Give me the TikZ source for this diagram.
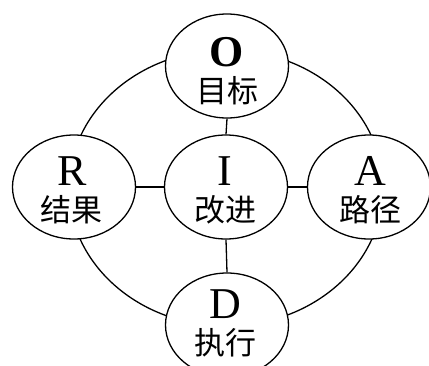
\documentclass[tikz,border=0pt]{standalone}
\usepackage{fontspec}
\setmainfont{Liberation Serif}
\newfontfamily\cjk{Noto Sans CJK SC}
\usetikzlibrary{shapes.geometric}
\begin{document}
\begin{tikzpicture}[x=1pt,y=-1pt,
  oval/.style={draw,ellipse,fill=white,line width=1.3pt,minimum width=123pt,minimum height=104pt,inner sep=0pt},
  link/.style={line width=1.3pt},
  letter/.style={font=\fontsize{44}{44}\selectfont,inner sep=0pt},
  word/.style={font=\cjk\fontsize{31}{31}\selectfont,inner sep=0pt}]
\useasboundingbox (0,0) rectangle (429,365);
\begin{scope}
\clip (0,0) rectangle (429,365);
\draw[link] (226,188) ellipse [x radius=157, y radius=138];
\node[oval] (O) at (227,66) {};
\node[oval] (I) at (226,187) {};
\node[oval] (R) at (74,187) {};
\node[oval] (A) at (369,187) {};
\node[oval] (D) at (227,325) {};
\draw[link] (O.south) -- (I.north);
\draw[link] (I.south) -- (D.north);
\draw[link] (R.east) -- (I.west);
\draw[link] (I.east) -- (A.west);
\node[letter,font=\fontsize{44}{44}\selectfont\bfseries] (tO) at (227,52) {O};
\node[word] (wO) at (227,91) {目标};
\node[letter] (tR) at (72,171) {R};
\node[word] (wR) at (72,210) {结果};
\node[letter] (tI) at (225,171) {I};
\node[word] (wI) at (225,210) {改进};
\node[letter] (tA) at (370,171) {A};
\node[word] (wA) at (370,210) {路径};
\node[letter] (tD) at (225,304) {D};
\node[word] (wD) at (225,343) {执行};
\end{scope}
\end{tikzpicture}
\end{document}
